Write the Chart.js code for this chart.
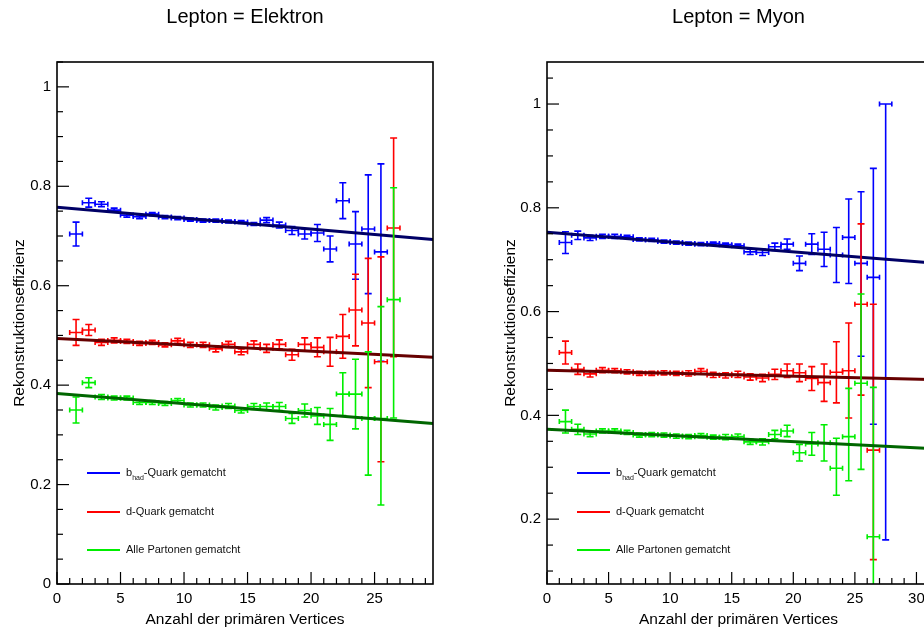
<!DOCTYPE html>
<html><head><meta charset="utf-8">
<script src="https://cdn.jsdelivr.net/npm/chart.js@4.4.1/dist/chart.umd.min.js"></script>
<style>
html,body{margin:0;padding:0;background:#fff;overflow:hidden;width:924px;height:635px;position:relative;}
#wrapE{position:absolute;left:0;top:0;width:462px;height:635px;}
#wrapM{position:absolute;left:462px;top:0;width:472px;height:635px;}
.leg{position:absolute;top:0;font-family:'Liberation Sans',Arial,sans-serif;font-size:11px;color:#111;}
.leg .row{position:absolute;left:0;white-space:nowrap;height:0;}
.leg .ln{position:absolute;left:0;top:-1px;width:33px;height:1.6px;}
.leg .tx{position:absolute;left:39px;top:-7px;line-height:13px;}
.leg sub{font-size:7px;vertical-align:-4px;line-height:0;}
</style></head>
<body>
<div id="wrapE"><canvas id="cE" width="462" height="635"></canvas></div>
<div id="wrapM"><canvas id="cM" width="472" height="635"></canvas></div>
<div class="leg" style="left:87px">
  <div class="row" style="top:473px"><div class="ln" style="background:#0000ff"></div><div class="tx">b<sub>had</sub>-Quark gematcht</div></div>
  <div class="row" style="top:512px"><div class="ln" style="background:#ff0000"></div><div class="tx">d-Quark gematcht</div></div>
  <div class="row" style="top:550px"><div class="ln" style="background:#00ee00"></div><div class="tx">Alle Partonen gematcht</div></div>
</div>
<div class="leg" style="left:577px">
  <div class="row" style="top:473px"><div class="ln" style="background:#0000ff"></div><div class="tx">b<sub>had</sub>-Quark gematcht</div></div>
  <div class="row" style="top:512px"><div class="ln" style="background:#ff0000"></div><div class="tx">d-Quark gematcht</div></div>
  <div class="row" style="top:550px"><div class="ln" style="background:#00ee00"></div><div class="tx">Alle Partonen gematcht</div></div>
</div>
<script>
// ---------- Lepton = Elektron ----------
const nvE = [1.5,2.5,3.5,4.5,5.5,6.5,7.5,8.5,9.5,10.5,11.5,12.5,13.5,14.5,15.5,16.5,17.5,18.5,19.5,20.5,21.5,22.5,23.5,24.5,25.5,26.5];
const effBE   = [0.704,0.767,0.764,0.752,0.742,0.739,0.744,0.738,0.736,0.733,0.731,0.731,0.729,0.728,0.724,0.732,0.722,0.711,0.704,0.706,0.674,0.771,0.684,0.714,0.668,null];
const errBEup = [0.024,0.009,0.005,0.004,0.004,0.004,0.003,0.003,0.003,0.003,0.003,0.003,0.003,0.003,0.003,0.005,0.006,0.008,0.010,0.017,0.026,0.036,0.065,0.109,0.177,null];
const errBElo = [0.024,0.009,0.005,0.004,0.004,0.004,0.003,0.003,0.003,0.003,0.003,0.003,0.003,0.003,0.003,0.005,0.006,0.008,0.010,0.017,0.026,0.036,0.071,0.130,0.220,null];
const effRE   = [0.506,0.511,0.486,0.490,0.488,0.484,0.486,0.481,0.489,0.481,0.481,0.473,0.482,0.467,0.482,0.474,0.482,0.461,0.482,0.476,0.467,0.498,0.551,0.525,0.447,0.716];
const errREup = [0.026,0.011,0.006,0.005,0.004,0.004,0.004,0.004,0.005,0.005,0.005,0.006,0.006,0.006,0.007,0.008,0.009,0.011,0.013,0.019,0.029,0.044,0.072,0.130,0.211,0.181];
const errRElo = [0.026,0.011,0.006,0.005,0.004,0.004,0.004,0.004,0.005,0.005,0.005,0.006,0.006,0.006,0.007,0.008,0.009,0.011,0.013,0.019,0.029,0.044,0.072,0.130,0.201,0.259];
const effGE   = [0.350,0.405,0.376,0.374,0.374,0.365,0.365,0.363,0.369,0.360,0.360,0.355,0.358,0.349,0.357,0.357,0.357,0.333,0.349,0.338,0.321,0.382,0.382,0.333,0.333,0.572];
const errGEup = [0.026,0.010,0.005,0.004,0.004,0.004,0.004,0.004,0.004,0.004,0.004,0.005,0.005,0.005,0.006,0.007,0.008,0.010,0.013,0.017,0.032,0.043,0.070,0.134,0.225,0.225];
const errGElo = [0.026,0.010,0.005,0.004,0.004,0.004,0.004,0.004,0.004,0.004,0.004,0.005,0.005,0.005,0.006,0.007,0.008,0.010,0.013,0.017,0.032,0.043,0.070,0.114,0.174,0.238];
const fitXE = [0, 29.6];
const fitBE = [0.758, 0.693];
const fitRE = [0.494, 0.456];
const fitGE = [0.383, 0.323];
const xTicksE = [0,5,10,15,20,25];
const yTicksE = [0,0.2,0.4,0.6,0.8,1];
const xRangeE = [0, 29.6];
const yRangeE = [0, 1.05];

// ---------- Lepton = Myon ----------
const nvM = [1.5,2.5,3.5,4.5,5.5,6.5,7.5,8.5,9.5,10.5,11.5,12.5,13.5,14.5,15.5,16.5,17.5,18.5,19.5,20.5,21.5,22.5,23.5,24.5,25.5,26.5,27.5];
const effBM   = [0.733,0.747,0.742,0.745,0.745,0.744,0.739,0.738,0.735,0.733,0.731,0.730,0.731,0.729,0.727,0.715,0.714,0.725,0.730,0.693,0.730,0.720,0.709,0.743,0.693,0.666,1.000];
const errBMup = [0.021,0.008,0.005,0.004,0.004,0.003,0.003,0.003,0.003,0.003,0.003,0.003,0.003,0.003,0.003,0.005,0.006,0.007,0.010,0.014,0.020,0.033,0.053,0.074,0.138,0.210,0.000];
const errBMlo = [0.021,0.008,0.005,0.004,0.004,0.003,0.003,0.003,0.003,0.003,0.003,0.003,0.003,0.003,0.003,0.005,0.006,0.007,0.010,0.014,0.020,0.033,0.053,0.089,0.179,0.283,0.840];
const effRM   = [0.521,0.489,0.480,0.487,0.486,0.484,0.481,0.481,0.482,0.481,0.481,0.485,0.478,0.477,0.479,0.474,0.472,0.479,0.486,0.482,0.471,0.463,0.483,0.486,0.614,0.333,null];
const errRMup = [0.022,0.010,0.006,0.005,0.004,0.004,0.004,0.004,0.004,0.004,0.005,0.005,0.005,0.005,0.006,0.006,0.007,0.010,0.013,0.017,0.023,0.036,0.059,0.092,0.155,0.281,null];
const errRMlo = [0.022,0.010,0.006,0.005,0.004,0.004,0.004,0.004,0.004,0.004,0.005,0.005,0.005,0.005,0.006,0.006,0.007,0.010,0.013,0.017,0.023,0.036,0.059,0.091,0.175,0.211,null];
const effGM   = [0.388,0.373,0.364,0.370,0.370,0.367,0.362,0.363,0.362,0.360,0.359,0.361,0.358,0.358,0.359,0.349,0.349,0.363,0.370,0.328,0.345,0.347,0.298,0.359,0.462,0.166,null];
const errGMup = [0.022,0.010,0.005,0.004,0.004,0.004,0.004,0.004,0.004,0.004,0.004,0.004,0.004,0.005,0.005,0.005,0.006,0.008,0.011,0.016,0.022,0.035,0.058,0.093,0.172,0.288,null];
const errGMlo = [0.022,0.010,0.005,0.004,0.004,0.004,0.004,0.004,0.004,0.004,0.004,0.004,0.004,0.005,0.005,0.005,0.006,0.008,0.011,0.016,0.022,0.035,0.052,0.085,0.166,0.120,null];
const fitXM = [0, 31.1];
const fitBM = [0.753, 0.694];
const fitRM = [0.487, 0.469];
const fitGM = [0.373, 0.336];
const xTicksM = [0,5,10,15,20,25,30];
const yTicksM = [0.2,0.4,0.6,0.8,1];
const xRangeM = [0, 31.1];
const yRangeM = [0.075, 1.081];

const binHalfWidth = 0.5;

Chart.defaults.font.family = "'Liberation Sans', Arial, Helvetica, sans-serif";
Chart.defaults.color = '#000';

const errorBarPlugin = {
  id: 'errbars',
  afterDatasetDraw(chart, args) {
    const ds = chart.data.datasets[args.index];
    if (!ds.errUp) return;
    const {ctx, chartArea: a, scales: {x, y}} = chart;
    ctx.save();
    ctx.beginPath(); ctx.rect(a.left, a.top, a.right - a.left, a.bottom - a.top); ctx.clip();
    ctx.strokeStyle = ds.borderColor; ctx.lineWidth = 1.6; ctx.lineCap = 'butt';
    ds.data.forEach((p, i) => {
      if (p.y == null) return;
      const px = x.getPixelForValue(p.x), py = y.getPixelForValue(p.y);
      const xl = x.getPixelForValue(p.x - binHalfWidth), xr = x.getPixelForValue(p.x + binHalfWidth);
      const yt = y.getPixelForValue(p.y + ds.errUp[i]), yb = y.getPixelForValue(p.y - ds.errLo[i]);
      ctx.beginPath();
      ctx.moveTo(xl, py); ctx.lineTo(xr, py);
      ctx.moveTo(xl, py - 2.5); ctx.lineTo(xl, py + 2.5);
      ctx.moveTo(xr, py - 2.5); ctx.lineTo(xr, py + 2.5);
      ctx.moveTo(px, yt); ctx.lineTo(px, yb);
      if (ds.errUp[i] > 0) { ctx.moveTo(px - 3.5, yt); ctx.lineTo(px + 3.5, yt); }
      if (ds.errLo[i] > 0) { ctx.moveTo(px - 3.5, yb); ctx.lineTo(px + 3.5, yb); }
      ctx.stroke();
    });
    ctx.restore();
  }
};

const framePlugin = {
  id: 'frame',
  afterDatasetsDraw(chart) {
    const {ctx, chartArea: a, scales: {x, y}} = chart;
    ctx.save();
    ctx.strokeStyle = '#000';
    ctx.lineWidth = 1.2;
    const k0 = Math.ceil(y.min / 0.05 - 1e-6), k1 = Math.floor(y.max / 0.05 + 1e-6);
    for (let k = k0; k <= k1; k++) {
      const major = k % 4 === 0;
      const py = y.getPixelForValue(k * 0.05);
      ctx.beginPath(); ctx.moveTo(a.left, py); ctx.lineTo(a.left + (major ? 12 : 6), py); ctx.stroke();
    }
    for (let k = Math.ceil(x.min); k <= Math.floor(x.max); k++) {
      const major = k % 5 === 0;
      const px = x.getPixelForValue(k);
      ctx.beginPath(); ctx.moveTo(px, a.bottom); ctx.lineTo(px, a.bottom - (major ? 12 : 6)); ctx.stroke();
    }
    ctx.lineWidth = 1.6;
    ctx.strokeRect(a.left, a.top, a.right - a.left, a.bottom - a.top);
    ctx.restore();
  }
};

function series(xs, ys, up, lo, color, order) {
  return {
    data: xs.map((v, i) => ({x: v, y: ys[i]})),
    errUp: up, errLo: lo,
    borderColor: color, backgroundColor: color,
    pointRadius: 0, pointHoverRadius: 0, showLine: false, order: order
  };
}
function fitLine(fx, fy, color, order) {
  return {
    data: fx.map((v, i) => ({x: v, y: fy[i]})),
    borderColor: color, backgroundColor: color, borderWidth: 3,
    pointRadius: 0, pointHoverRadius: 0, showLine: true, order: order
  };
}

function makeChart(id, title, datasets, xr, yr, xt, yt, yAxisWidth, rightPad, yTitlePad) {
  return new Chart(document.getElementById(id), {
    type: 'scatter',
    data: { datasets: datasets },
    options: {
      responsive: false, animation: false, events: [],
      layout: { padding: { left: 0, top: 0, right: rightPad, bottom: 0 } },
      plugins: {
        legend: { display: false }, tooltip: { enabled: false },
        title: { display: true, text: title, fullSize: false, color: '#000',
                 font: { size: 20, weight: 'normal' }, padding: { top: 5, bottom: 33 } }
      },
      scales: {
        x: {
          type: 'linear', min: xr[0], max: xr[1],
          grid: { display: false, drawTicks: false }, border: { display: false },
          afterBuildTicks: s => { s.ticks = xt.map(v => ({value: v})); },
          afterFit: s => { s.height = 51; },
          ticks: { autoSkip: false, maxRotation: 0, padding: 6, font: { size: 15 }, color: '#000', callback: v => String(v) },
          title: { display: true, text: 'Anzahl der primären Vertices', font: { size: 15.5 }, color: '#000', padding: { top: 0, bottom: 6 } }
        },
        y: {
          type: 'linear', min: yr[0], max: yr[1],
          grid: { display: false, drawTicks: false }, border: { display: false },
          afterBuildTicks: s => { s.ticks = yt.map(v => ({value: v})); },
          afterFit: s => { s.width = yAxisWidth; },
          ticks: { autoSkip: false, padding: 6, font: { size: 15 }, color: '#000', callback: v => String(v) },
          title: { display: true, text: 'Rekonstruktionseffizienz', font: { size: 15.5 }, color: '#000', padding: { top: yTitlePad, bottom: 0 } }
        }
      }
    },
    plugins: [errorBarPlugin, framePlugin]
  });
}

makeChart('cE', 'Lepton = Elektron', [
  series(nvE, effBE, errBEup, errBElo, '#0000ff', 6),
  fitLine(fitXE, fitBE, '#000066', 5),
  series(nvE, effRE, errREup, errRElo, '#ff0000', 4),
  fitLine(fitXE, fitRE, '#660000', 3),
  series(nvE, effGE, errGEup, errGElo, '#00ee00', 2),
  fitLine(fitXE, fitGE, '#006600', 1)
], xRangeE, yRangeE, xTicksE, yTicksE, 57, 29, 10);

makeChart('cM', 'Lepton = Myon', [
  series(nvM, effBM, errBMup, errBMlo, '#0000ff', 6),
  fitLine(fitXM, fitBM, '#000066', 5),
  series(nvM, effRM, errRMup, errRMlo, '#ff0000', 4),
  fitLine(fitXM, fitRM, '#660000', 3),
  series(nvM, effGM, errGMup, errGMlo, '#00ee00', 2),
  fitLine(fitXM, fitGM, '#006600', 1)
], xRangeM, yRangeM, xTicksM, yTicksM, 85, 4, 39);
</script>
</body></html>
